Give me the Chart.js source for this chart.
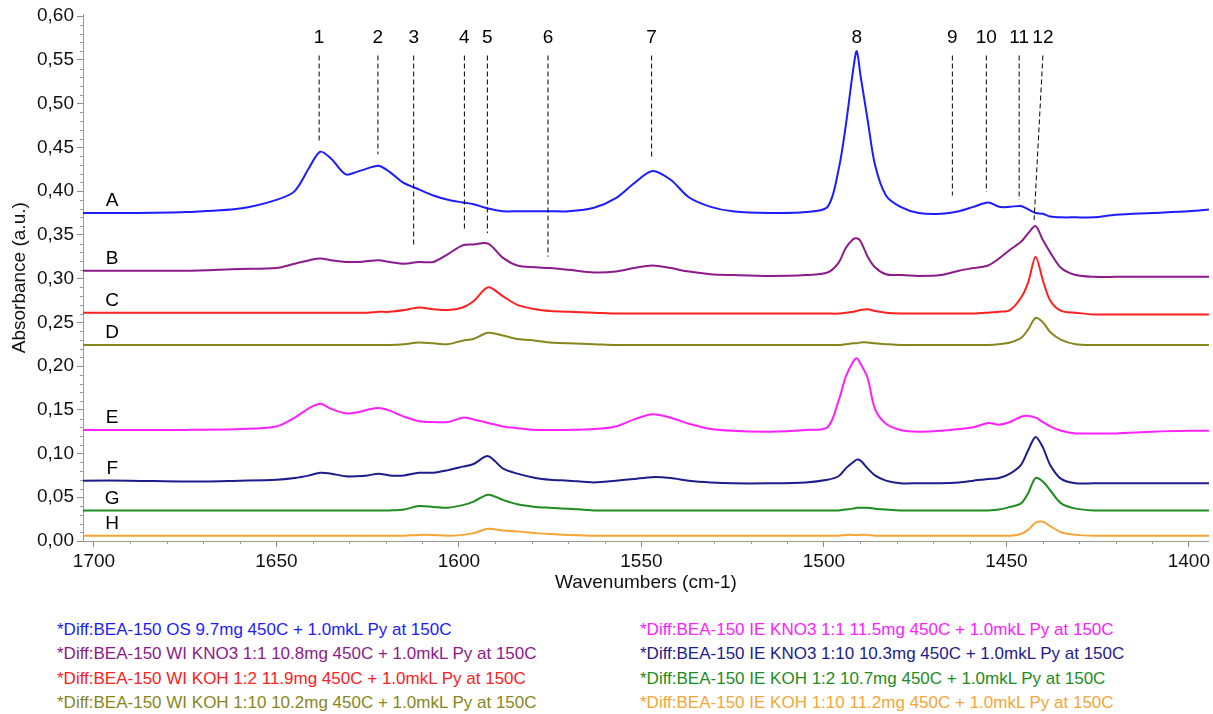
<!DOCTYPE html>
<html>
<head>
<meta charset="utf-8">
<script src="https://cdn.jsdelivr.net/npm/chart.js@4.4.0/dist/chart.umd.min.js"></script>
<style>
  html, body { margin: 0; padding: 0; background: #fff; }
  #wrap { position: relative; width: 1213px; height: 714px; overflow: hidden; font-family: "Liberation Sans", Arial, sans-serif; }
  #spectra { position: absolute; left: 0; top: 0; }
  .legend { position: absolute; top: 618px; font-size: 17px; line-height: 24.4px; white-space: nowrap; }
</style>
</head>
<body>
<div id="wrap">
  <canvas id="spectra" width="1213" height="600"></canvas>
  <div class="legend" id="legend-left" style="left:57px"></div>
  <div class="legend" id="legend-right" style="left:640px"></div>
</div>
<script>
// wavenumber grid (cm-1), shared by all spectra
const wavenumbers = [
  1703, 1690, 1675, 1660, 1650, 1645, 1641, 1638, 1635, 1631,
  1628, 1625, 1622, 1619, 1615, 1611, 1607, 1603, 1599, 1596,
  1592, 1588, 1584, 1579, 1575, 1570, 1563, 1557, 1552, 1547,
  1542, 1537, 1531, 1525, 1515, 1505, 1499, 1496, 1494, 1492,
  1491, 1490, 1488, 1486, 1483, 1479, 1474, 1468, 1463, 1459,
  1455, 1452, 1449, 1446, 1444, 1442, 1440, 1438, 1435, 1431,
  1426, 1420, 1410, 1400, 1394
];

// absorbance (a.u.), one array per sample
const absA = [
  0.375, 0.375, 0.376, 0.380, 0.390, 0.400, 0.427, 0.445, 0.437, 0.419,
  0.422, 0.426, 0.429, 0.422, 0.409, 0.402, 0.395, 0.390, 0.387, 0.385,
  0.380, 0.377, 0.377, 0.377, 0.377, 0.377, 0.381, 0.392, 0.409, 0.423,
  0.413, 0.393, 0.382, 0.377, 0.375, 0.376, 0.382, 0.424, 0.475, 0.538,
  0.560, 0.533, 0.481, 0.430, 0.395, 0.382, 0.375, 0.374, 0.377, 0.382,
  0.387, 0.382, 0.382, 0.383, 0.379, 0.375, 0.374, 0.371, 0.370, 0.370,
  0.370, 0.373, 0.375, 0.377, 0.379
];
const absB = [
  0.309, 0.309, 0.309, 0.311, 0.312, 0.317, 0.321, 0.323, 0.321, 0.319,
  0.319, 0.320, 0.321, 0.319, 0.317, 0.319, 0.319, 0.328, 0.338, 0.339,
  0.340, 0.324, 0.315, 0.313, 0.312, 0.310, 0.307, 0.308, 0.312, 0.315,
  0.312, 0.308, 0.305, 0.304, 0.303, 0.304, 0.307, 0.318, 0.335, 0.345,
  0.346, 0.343, 0.325, 0.313, 0.305, 0.304, 0.303, 0.304, 0.309, 0.312,
  0.315, 0.323, 0.333, 0.342, 0.352, 0.360, 0.344, 0.330, 0.312, 0.304,
  0.302, 0.302, 0.302, 0.302, 0.302
];
const absC = [
  0.261, 0.261, 0.261, 0.261, 0.261, 0.261, 0.261, 0.261, 0.261, 0.261,
  0.261, 0.261, 0.262, 0.262, 0.264, 0.267, 0.265, 0.264, 0.267, 0.274,
  0.290, 0.280, 0.270, 0.265, 0.263, 0.262, 0.261, 0.260, 0.260, 0.260,
  0.260, 0.260, 0.260, 0.260, 0.260, 0.260, 0.260, 0.260, 0.261, 0.262,
  0.263, 0.264, 0.265, 0.263, 0.261, 0.260, 0.260, 0.260, 0.260, 0.260,
  0.261, 0.262, 0.264, 0.278, 0.296, 0.325, 0.298, 0.275, 0.263, 0.261,
  0.259, 0.259, 0.259, 0.259, 0.259
];
const absD = [
  0.224, 0.224, 0.224, 0.224, 0.224, 0.224, 0.224, 0.224, 0.224, 0.224,
  0.224, 0.224, 0.224, 0.224, 0.225, 0.227, 0.226, 0.225, 0.229, 0.231,
  0.238, 0.235, 0.231, 0.229, 0.227, 0.226, 0.225, 0.224, 0.224, 0.224,
  0.224, 0.224, 0.224, 0.224, 0.224, 0.224, 0.224, 0.224, 0.225, 0.226,
  0.226, 0.227, 0.227, 0.226, 0.225, 0.224, 0.224, 0.224, 0.224, 0.224,
  0.224, 0.225, 0.227, 0.232, 0.242, 0.255, 0.250, 0.239, 0.230, 0.225,
  0.224, 0.224, 0.224, 0.224, 0.224
];
const absE = [
  0.127, 0.127, 0.127, 0.128, 0.131, 0.141, 0.152, 0.157, 0.151, 0.146,
  0.147, 0.150, 0.152, 0.149, 0.142, 0.137, 0.136, 0.136, 0.141, 0.139,
  0.135, 0.131, 0.129, 0.127, 0.127, 0.127, 0.128, 0.131, 0.139, 0.145,
  0.141, 0.134, 0.128, 0.126, 0.125, 0.127, 0.130, 0.160, 0.188, 0.205,
  0.209, 0.203, 0.186, 0.151, 0.134, 0.127, 0.125, 0.126, 0.128, 0.130,
  0.135, 0.133, 0.136, 0.142, 0.143, 0.141, 0.136, 0.131, 0.126, 0.123,
  0.123, 0.123, 0.125, 0.126, 0.126
];
const absF = [
  0.069, 0.069, 0.068, 0.069, 0.070, 0.072, 0.075, 0.078, 0.077, 0.074,
  0.074, 0.075, 0.077, 0.075, 0.075, 0.078, 0.078, 0.081, 0.085, 0.088,
  0.097, 0.083, 0.077, 0.072, 0.070, 0.069, 0.067, 0.069, 0.071, 0.073,
  0.072, 0.069, 0.067, 0.066, 0.066, 0.067, 0.070, 0.074, 0.083, 0.090,
  0.093, 0.092, 0.083, 0.075, 0.069, 0.066, 0.066, 0.066, 0.067, 0.069,
  0.071, 0.072, 0.077, 0.087, 0.104, 0.119, 0.107, 0.087, 0.071, 0.066,
  0.066, 0.066, 0.066, 0.066, 0.066
];
const absG = [
  0.035, 0.035, 0.035, 0.035, 0.035, 0.035, 0.035, 0.035, 0.035, 0.035,
  0.035, 0.035, 0.035, 0.035, 0.036, 0.040, 0.039, 0.038, 0.041, 0.045,
  0.053, 0.047, 0.042, 0.039, 0.038, 0.037, 0.035, 0.035, 0.035, 0.035,
  0.035, 0.035, 0.035, 0.035, 0.035, 0.035, 0.035, 0.035, 0.036, 0.037,
  0.038, 0.038, 0.038, 0.037, 0.036, 0.035, 0.035, 0.035, 0.035, 0.035,
  0.035, 0.036, 0.039, 0.043, 0.055, 0.072, 0.068, 0.058, 0.043, 0.037,
  0.035, 0.035, 0.035, 0.035, 0.035
];
const absH = [
  0.006, 0.006, 0.006, 0.006, 0.006, 0.006, 0.006, 0.006, 0.006, 0.006,
  0.006, 0.006, 0.006, 0.006, 0.006, 0.007, 0.007, 0.006, 0.007, 0.009,
  0.014, 0.012, 0.011, 0.009, 0.008, 0.007, 0.006, 0.006, 0.006, 0.006,
  0.006, 0.006, 0.006, 0.006, 0.006, 0.006, 0.006, 0.006, 0.007, 0.007,
  0.007, 0.007, 0.007, 0.006, 0.006, 0.006, 0.006, 0.006, 0.006, 0.006,
  0.006, 0.006, 0.006, 0.008, 0.013, 0.021, 0.022, 0.017, 0.010, 0.007,
  0.006, 0.006, 0.006, 0.006, 0.006
];

const seriesKeys = ['A', 'B', 'C', 'D', 'E', 'F', 'G', 'H'];
const seriesValues = [absA, absB, absC, absD, absE, absF, absG, absH];
const seriesColors = ['#1c1cff', '#8b1a8b', '#ff2020', '#86861c', '#ff20ff', '#1c1c8c', '#1e8c1e', '#f5a536'];
const legendTexts = [
  '*Diff:BEA-150 OS 9.7mg 450C + 1.0mkL Py at 150C',
  '*Diff:BEA-150 WI KNO3 1:1 10.8mg 450C + 1.0mkL Py at 150C',
  '*Diff:BEA-150 WI KOH 1:2 11.9mg 450C + 1.0mkL Py at 150C',
  '*Diff:BEA-150 WI KOH 1:10 10.2mg 450C + 1.0mkL Py at 150C',
  '*Diff:BEA-150 IE KNO3 1:1 11.5mg 450C + 1.0mkL Py at 150C',
  '*Diff:BEA-150 IE KNO3 1:10 10.3mg 450C + 1.0mkL Py at 150C',
  '*Diff:BEA-150 IE KOH 1:2 10.7mg 450C + 1.0mkL Py at 150C',
  '*Diff:BEA-150 IE KOH 1:10 11.2mg 450C + 1.0mkL Py at 150C'
];

const xTicks = [1700, 1650, 1600, 1550, 1500, 1450, 1400];
const yTicks = [0, 0.05, 0.1, 0.15, 0.2, 0.25, 0.3, 0.35, 0.4, 0.45, 0.5, 0.55, 0.6];

// numbered band markers: label, wavenumber at top, wavenumber at bottom, absorbance where the dashed line stops
const peakNames = ['1', '2', '3', '4', '5', '6', '7', '8', '9', '10', '11', '12'];
const peakTopWn = [1638.3, 1622.2, 1612.4, 1598.5, 1592.2, 1575.6, 1547.2, 1491.0, 1464.8, 1455.5, 1446.5, 1440.0];
const peakBottomWn = [1638.3, 1622.2, 1612.4, 1598.5, 1592.2, 1575.6, 1547.2, 1491.0, 1464.8, 1455.5, 1446.5, 1442.4];
const peakLineEnd = [0.456, 0.442, 0.336, 0.357, 0.352, 0.325, 0.438, null, 0.395, 0.399, 0.390, 0.367];

const FONT = '"Liberation Sans", Arial, sans-serif';
Chart.defaults.font.family = FONT;

const markers = {
  id: 'markers',
  afterDatasetsDraw(chart) {
    const { ctx, scales: { x, y } } = chart;
    ctx.save();
    // minor ticks
    ctx.strokeStyle = '#9a9a9a';
    ctx.lineWidth = 1;
    ctx.beginPath();
    for (let w = 1400; w <= 1700; w += 10) {
      if (w % 50 === 0) continue;
      const px = Math.round(x.getPixelForValue(w)) + 0.5;
      ctx.moveTo(px, y.bottom);
      ctx.lineTo(px, y.bottom + 3);
    }
    for (let k = 1; k < 60; k++) {
      if (k % 5 === 0) continue;
      const py = Math.round(y.getPixelForValue(k / 100)) + 0.5;
      ctx.moveTo(x.left, py);
      ctx.lineTo(x.left - 3, py);
    }
    ctx.stroke();

    ctx.fillStyle = '#000';
    ctx.font = '19px ' + FONT;
    ctx.textAlign = 'center';
    ctx.textBaseline = 'middle';
    // sample letters above each baseline
    seriesKeys.forEach((k, i) => {
      ctx.fillText(k, x.getPixelForValue(1695), y.getPixelForValue(seriesValues[i][0]) - 12);
    });

    // band numbers and dashed guides
    ctx.strokeStyle = '#000';
    ctx.setLineDash([5, 3]);
    peakNames.forEach((n, i) => {
      const xt = x.getPixelForValue(peakTopWn[i]);
      ctx.fillText(n, xt, y.getPixelForValue(0.575));
      if (peakLineEnd[i] === null) return;
      ctx.beginPath();
      ctx.moveTo(xt, y.getPixelForValue(0.555));
      ctx.lineTo(x.getPixelForValue(peakBottomWn[i]), y.getPixelForValue(peakLineEnd[i]));
      ctx.stroke();
    });
    ctx.restore();
  }
};

new Chart(document.getElementById('spectra'), {
  type: 'line',
  data: {
    datasets: seriesKeys.map((k, i) => ({
      label: k,
      data: wavenumbers.map((w, j) => ({ x: w, y: seriesValues[i][j] })),
      borderColor: seriesColors[i],
      borderWidth: 2,
      pointRadius: 0,
      tension: 0.3,
      fill: false
    }))
  },
  options: {
    responsive: false,
    animation: false,
    layout: { padding: { top: 14, right: 0, bottom: 0, left: 0 } },
    plugins: { legend: { display: false }, tooltip: { enabled: false } },
    scales: {
      x: {
        type: 'linear',
        reverse: true,
        min: 1394.5,
        max: 1703,
        afterBuildTicks: s => { s.ticks = xTicks.map(v => ({ value: v })); },
        afterFit: s => { s.height = 59; },
        ticks: { font: { size: 19 }, color: '#111', padding: 3, maxRotation: 0, autoSkip: false, callback: v => String(v) },
        grid: { drawOnChartArea: false, tickLength: 6, tickColor: '#8a8a8a' },
        border: { color: '#9a9a9a' },
        title: { display: true, text: 'Wavenumbers (cm-1)', font: { size: 19 }, color: '#111', padding: { top: 0, bottom: 6 } }
      },
      y: {
        min: 0,
        max: 0.602,
        afterBuildTicks: s => { s.ticks = yTicks.map(v => ({ value: v })); },
        afterFit: s => { s.width = 83; },
        ticks: { font: { size: 19 }, color: '#111', padding: 3, autoSkip: false, callback: v => v.toFixed(2).replace('.', ',') },
        grid: { drawOnChartArea: false, tickLength: 6, tickColor: '#8a8a8a' },
        border: { color: '#9a9a9a' },
        title: { display: true, text: 'Absorbance (a.u.)', font: { size: 19 }, color: '#111', padding: { top: 8, bottom: 0 } }
      }
    }
  },
  plugins: [markers]
});

// legend as two columns of coloured text, A-D left and E-H right
const left = document.getElementById('legend-left');
const right = document.getElementById('legend-right');
legendTexts.forEach((t, i) => {
  const div = document.createElement('div');
  div.textContent = t;
  div.style.color = seriesColors[i];
  (i < 4 ? left : right).appendChild(div);
});
</script>
</body>
</html>
